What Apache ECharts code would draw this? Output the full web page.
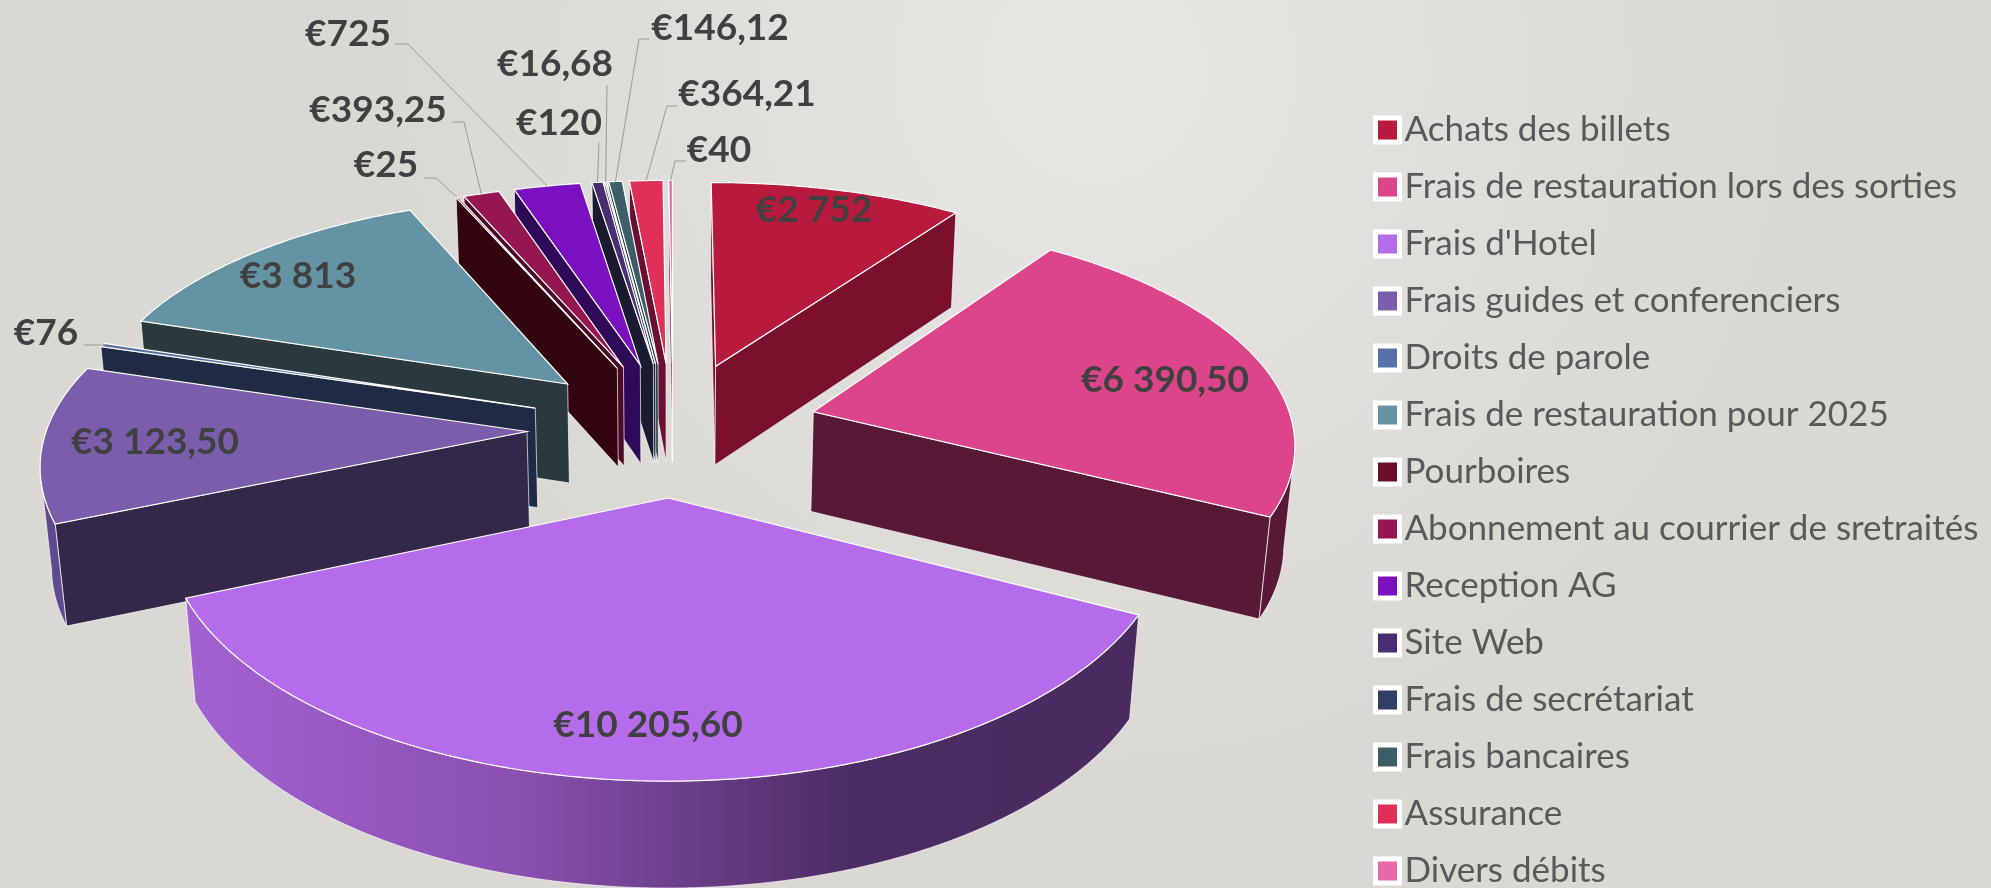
<!DOCTYPE html>
<html>
<head>
<meta charset="utf-8">
<title>Répartition des dépenses</title>
<style>
  html, body { margin: 0; padding: 0; }
  #chart { width: 1991px; height: 888px; }
</style>
<script src="https://cdn.jsdelivr.net/npm/echarts@6/dist/echarts.min.js"></script>
</head>
<body>
<div id="chart"></div>
<script>
const categories = ['Achats des billets', 'Frais de restauration lors des sorties', "Frais d'Hotel",
  'Frais guides et conferenciers', 'Droits de parole', 'Frais de restauration pour 2025', 'Pourboires',
  'Abonnement au courrier de sretraités', 'Reception AG', 'Site Web', 'Frais de secrétariat',
  'Frais bancaires', 'Assurance', 'Divers débits']
const amounts = [2752, 6390.5, 10205.6, 3123.5, 76, 3813, 25, 393.25, 725, 120, 16.68, 146.12, 364.21, 40]
const amountLabels = ['€2 752', '€6 390,50', '€10 205,60', '€3 123,50', '€76', '€3 813', '€25',
  '€393,25', '€725', '€120', '€16,68', '€146,12', '€364,21', '€40']
const topColors = ['#b71a3c', '#dc4589', '#b56cea', '#7a5dab', '#5670a8', '#6494a4', '#6b0d28',
  '#96174f', '#7b10c0', '#4a2e72', '#2f3f66', '#3d5e66', '#e03058', '#e668a8']
const wallColors = ['#7a102b', '#571935', '#4b2c63', '#332849', '#1f2a44', '#2a393e', '#33060f',
  '#4d0a28', '#2e0a58', '#1a1a30', '#1f2a44', '#27393e', '#6b1030', '#8a2a5e']

// fake 3d camera, fitted by eye
const view = { cx: 673, cy: 428, a: 480, b: 224, h: 100, kx: 0.12, ky: 0.135, kz: 0.05, m: 0.018, explodeX: 0.304, explodeY: 0.3 }

// label centres, leader = [stub start, elbow], the last leader point comes from the slice
const labelPlaces = [
  { x: 814, y: 210 }, { x: 1165, y: 380 }, { x: 648, y: 725 }, { x: 155, y: 442 },
  { x: 46, y: 333, leader: [[84, 345], [105, 345]] },
  { x: 298, y: 276 },
  { x: 386, y: 165, leader: [[424, 178], [436, 178]] },
  { x: 378, y: 110, leader: [[452, 122], [464, 122]] },
  { x: 348, y: 34, leader: [[395, 44], [408, 44]] },
  { x: 559, y: 123, leader: [[599, 143]] },
  { x: 555, y: 64, leader: [[607, 85]] },
  { x: 720, y: 28, leader: [[649, 39], [639, 39]] },
  { x: 747, y: 94, leader: [[677, 106], [667, 106]] },
  { x: 719, y: 150, leader: [[686, 161], [675, 161]] }
]

const total = amounts.reduce((s, v) => s + v, 0)
const rad = Math.PI / 180
const starts = []
amounts.reduce((sum, v, i) => { starts[i] = sum; return sum + v }, 0)

function project(u, v, z) {
  const wx = 1 + view.kx * v + view.m * z
  const wy = 1 + view.ky * v
  const wz = 1 + view.kz * v
  return [view.cx + view.a * u / wx, view.cy - view.b * v / wy + view.h * z / wz]
}

function sliceShape(value, start) {
  const a0 = start / total * 360
  const a1 = (start + value) / total * 360
  const mid = (a0 + a1) / 2
  return { a0, a1, ox: view.explodeX * Math.sin(mid * rad), oy: view.explodeY * Math.cos(mid * rad) }
}

// is a vertical face with normal at angle deg, through plan point (u, v), towards the camera?
function facing(deg, u, v) {
  return Math.sin(deg * rad) * (0 - u) + Math.cos(deg * rad) * (-1 / view.kx - v) > 0
}

function renderSlice(params, api) {
  const idx = api.value(2)
  const s = sliceShape(api.value(0), api.value(1))
  const rim = (deg, z) => project(s.ox + Math.sin(deg * rad), s.oy + Math.cos(deg * rad), z)
  const wall = wallColors[idx]
  const children = []

  const steps = Math.max(2, Math.ceil((s.a1 - s.a0) / 0.5))
  const arc = []
  for (let i = 0; i <= steps; i++) arc.push(s.a0 + (s.a1 - s.a0) * i / steps)

  const radial = (deg, normal) => {
    const u = s.ox + Math.sin(deg * rad) / 2
    const v = s.oy + Math.cos(deg * rad) / 2
    if (!facing(normal, u, v)) return
    children.push({
      type: 'polygon',
      shape: { points: [project(s.ox, s.oy, 0), rim(deg, 0), rim(deg, 1), project(s.ox, s.oy, 1)] },
      style: { fill: wall, stroke: 'rgba(255,255,255,0.85)', lineWidth: 0.8 }
    })
  }
  radial(s.a0, s.a0 - 90)
  radial(s.a1, s.a1 + 90)

  const seen = arc.filter(deg => facing(deg, s.ox + Math.sin(deg * rad), s.oy + Math.cos(deg * rad)))
  if (seen.length > 1) {
    let fill = idx === 3 ? '#5f4a90' : wall
    if (idx === 2) {
      fill = new echarts.graphic.LinearGradient(0, 0, 1, 0, [
        { offset: 0, color: '#a262d2' },
        { offset: 0.35, color: '#8a50b0' },
        { offset: 0.7, color: '#4b2c63' },
        { offset: 1, color: '#4a2b60' }
      ])
    }
    children.push({
      type: 'polygon',
      shape: { points: seen.map(d => rim(d, 0)).concat(seen.slice().reverse().map(d => rim(d, 1))) },
      style: { fill, stroke: 'rgba(255,255,255,0.85)', lineWidth: 0.8 }
    })
  }

  children.push({
    type: 'polygon',
    shape: { points: [project(s.ox, s.oy, 0)].concat(arc.map(d => rim(d, 0))) },
    style: { fill: topColors[idx], stroke: '#ffffff', lineWidth: 1.2 }
  })
  return { type: 'group', children }
}

function renderLabel(params, api) {
  const idx = api.value(2)
  const place = labelPlaces[idx]
  const children = []
  if (place.leader) {
    const s = sliceShape(api.value(0), api.value(1))
    const mid = (s.a0 + s.a1) / 2
    const end = project(s.ox + Math.sin(mid * rad), s.oy + Math.cos(mid * rad), 0)
    children.push({
      type: 'polyline',
      shape: { points: place.leader.concat([end]) },
      style: { fill: null, stroke: '#9a9a98', lineWidth: 1 }
    })
  }
  children.push({
    type: 'text',
    x: place.x,
    y: place.y,
    style: {
      text: amountLabels[idx],
      fill: '#404040',
      font: 'bold 37px Lato, "Noto Sans", sans-serif',
      align: 'center',
      verticalAlign: 'middle'
    }
  })
  return { type: 'group', children }
}

// far slices first so the near ones paint over them
const drawOrder = categories.map((c, i) => i).sort((p, q) => {
  const a = sliceShape(amounts[p], starts[p])
  const b = sliceShape(amounts[q], starts[q])
  return b.oy - a.oy
})

const series = drawOrder.map(i => ({
  type: 'custom',
  name: categories[i],
  coordinateSystem: 'none',
  renderItem: renderSlice,
  itemStyle: { color: topColors[i] },
  silent: true,
  data: [[amounts[i], starts[i], i]]
}))
series.push({
  type: 'custom',
  name: 'labels',
  coordinateSystem: 'none',
  renderItem: renderLabel,
  silent: true,
  z: 10,
  data: amounts.map((v, i) => [v, starts[i], i])
})

const chart = echarts.init(document.getElementById('chart'))
chart.setOption({
  animation: false,
  backgroundColor: new echarts.graphic.RadialGradient(0.55, 0.08, 0.8, [
    { offset: 0, color: '#e9e7e4' },
    { offset: 0.5, color: '#e1dfdb' },
    { offset: 1, color: '#dad8d2' }
  ]),
  legend: {
    data: categories,
    orient: 'vertical',
    left: 1373,
    top: 112.5,
    height: 1000,
    padding: 0,
    icon: 'rect',
    itemWidth: 24,
    itemHeight: 24,
    itemGap: 22,
    selectedMode: false,
    itemStyle: { borderColor: '#ffffff', borderWidth: 5 },
    textStyle: {
      color: '#595959',
      fontFamily: 'Lato, "Noto Sans", sans-serif',
      fontSize: 35,
      lineHeight: 30
    }
  },
  series
})
</script>
</body>
</html>
